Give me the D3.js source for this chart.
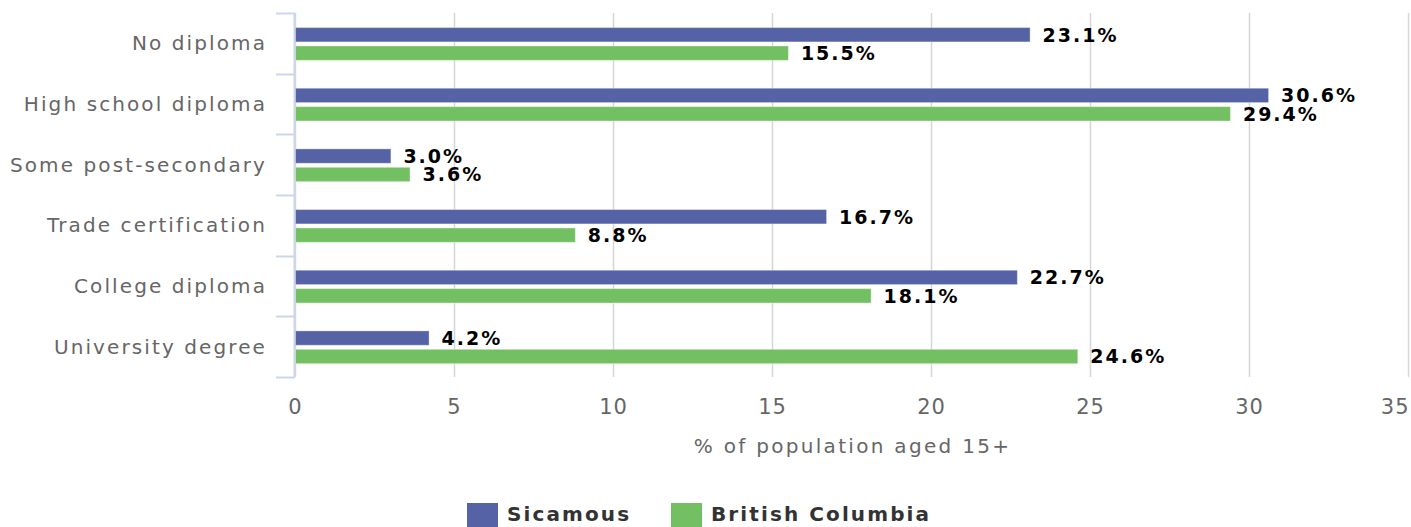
<!DOCTYPE html>
<html>
<head>
<meta charset="utf-8">
<script src="https://cdn.jsdelivr.net/npm/d3@7"></script>
<style>
  html, body { margin: 0; padding: 0; background: #fff; }
  svg { display: block; font-family: "DejaVu Sans", sans-serif; }
</style>
</head>
<body>
<svg id="chart" width="1411" height="527"></svg>
<script>
const categories = ["No diploma", "High school diploma", "Some post-secondary", "Trade certification", "College diploma", "University degree"];
const seriesNames = ["Sicamous", "British Columbia"];
const sicamous = [23.1, 30.6, 3.0, 16.7, 22.7, 4.2];
const britishColumbia = [15.5, 29.4, 3.6, 8.8, 18.1, 24.6];
const xTicks = [0, 5, 10, 15, 20, 25, 30, 35];
const xTitle = "% of population aged 15+";
const colors = ["#5563a6", "#72c062"];

(function () {
const svg = d3.select("#chart");
const pLeft = 295, pRight = 1408, pTop = 13, pBottom = 377;

const x = d3.scaleLinear().domain([0, 35]).range([pLeft, pRight]);
const y = d3.scaleBand().domain(categories).range([pTop, pBottom]);
const bw = y.bandwidth();
const sub = d3.scaleBand().domain(seriesNames).range([bw * 0.24, bw * 0.78]).paddingInner(0.22);

// gridlines
svg.append("g").selectAll("line").data(xTicks).join("line")
  .attr("x1", d => x(d) + 0.5).attr("x2", d => x(d) + 0.5)
  .attr("y1", pTop).attr("y2", pBottom)
  .attr("stroke", "#d6d6d6").attr("stroke-width", 1.5);

// x axis tick labels
const xAxis = d3.axisBottom(x).tickValues(xTicks).tickSize(0).tickPadding(0).tickFormat(d3.format("d"));
const gx = svg.append("g").attr("transform", `translate(0,${pBottom})`).call(xAxis);
gx.select(".domain").remove();
gx.selectAll("text")
  .attr("y", 37).attr("dy", 0)
  .attr("fill", "#666").style("font-size", "21px").style("letter-spacing", "1px")
  .attr("font-family", "DejaVu Sans");
gx.selectAll(".tick").filter(d => d === 35).select("text").attr("text-anchor", "end").attr("x", 1);

// y axis
const yAxisG = svg.append("g");
yAxisG.append("line").attr("x1", 294.5).attr("x2", 294.5).attr("y1", pTop).attr("y2", pBottom)
  .attr("stroke", "#ccd6eb").attr("stroke-width", 2);
const bounds = categories.map(c => y(c)).concat([pBottom]);
yAxisG.selectAll("line.tk").data(bounds).join("line").attr("class", "tk")
  .attr("x1", 276).attr("x2", 295).attr("y1", d => Math.round(d) + 0.5).attr("y2", d => Math.round(d) + 0.5)
  .attr("stroke", "#ccd6eb").attr("stroke-width", 2);
yAxisG.selectAll("text").data(categories).join("text")
  .attr("x", 267).attr("y", d => y(d) + bw / 2)
  .attr("dy", "0.35em").attr("text-anchor", "end")
  .attr("fill", "#666").style("font-size", "20px").style("letter-spacing", "2.1px")
  .text(d => d);

// bars
const data = [sicamous, britishColumbia];
seriesNames.forEach((s, si) => {
  const vals = data[si];
  const g = svg.append("g");
  g.selectAll("rect").data(categories).join("rect")
    .attr("x", x(0) + 0.5)
    .attr("y", (c) => y(c) + sub(s))
    .attr("width", (c, i) => x(vals[i]) - x(0))
    .attr("height", sub.bandwidth())
    .attr("fill", colors[si])
    .attr("stroke", "#ffffff").attr("stroke-opacity", 0.35).attr("stroke-width", 1);
  g.selectAll("text").data(categories).join("text")
    .attr("x", (c, i) => x(vals[i]) + 13)
    .attr("y", (c) => y(c) + sub(s) + sub.bandwidth() / 2)
    .attr("dy", "0.36em")
    .attr("fill", "#000").style("font-size", "19px").style("font-weight", "bold")
    .style("letter-spacing", "2px")
    .text((c, i) => vals[i].toFixed(1) + "%");
});

// x axis title
svg.append("text").attr("x", (pLeft + pRight) / 2 + 1).attr("y", 453)
  .attr("text-anchor", "middle").attr("fill", "#666")
  .style("font-size", "20px").style("letter-spacing", "2.3px")
  .text(xTitle);

// legend
const legend = svg.append("g");
const legendItems = [{ name: seriesNames[0], x: 467 }, { name: seriesNames[1], x: 671 }];
legendItems.forEach((it, i) => {
  legend.append("rect").attr("x", it.x).attr("y", 503).attr("width", 31).attr("height", 24)
    .attr("fill", colors[i]);
  legend.append("text").attr("x", it.x + 40).attr("y", 521)
    .attr("fill", "#333").style("font-size", "20px").style("font-weight", "bold")
    .style("letter-spacing", "2.1px")
    .text(it.name);
});
})();
</script>
</body>
</html>
